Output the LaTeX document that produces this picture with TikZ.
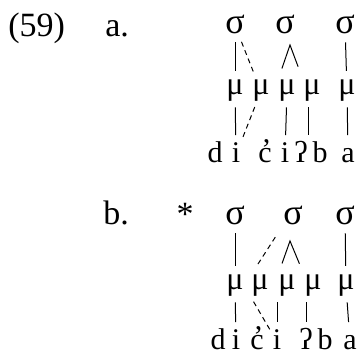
\documentclass[tikz,border=0pt]{standalone}
\usepackage{fontspec}
\setmainfont{Liberation Serif}
\usepackage{tikz}
\usetikzlibrary{positioning}

\newcommand{\cej}{\makebox[0pt][l]{\hspace{0.1em}\raisebox{0.1em}{’}}c}

\begin{document}
\begin{tikzpicture}[x=0.5pt,y=-0.5pt,
    every node/.style={on grid,inner sep=0pt,font=\fontsize{15}{18}\selectfont},
    lab/.style={anchor=base west,font=\fontsize{17}{20}\selectfont},
    syl/.style={font=\fontsize{18}{21}\selectfont,text height=8.5pt,text depth=0pt},
    mora/.style={font=\fontsize{16}{19}\selectfont,text height=7.4pt,text depth=3.5pt},
    seg/.style={text height=11.25pt,text depth=3pt},
    sm/.style={line width=0.5pt,shorten <=4pt,shorten >=4.5pt},
    ms/.style={line width=0.5pt,shorten <=2.5pt,shorten >=2.5pt},
    newlink/.style={dash pattern=on 2.5pt off 2pt}]
  \useasboundingbox (0,0) rectangle (359,356);
  % (59a)
  \node[lab] (ex) at (8,37) {(59)};
  \node[lab] (la) at (105,37) {a.};
  \node[syl,anchor=base] (s1a) at (235,34) {σ};
  \node[syl,right=25pt of s1a] (s2a) {σ};
  \node[syl,right=30pt of s2a] (s3a) {σ};
  \node[mora,anchor=base] (m1a) at (235,95) {μ};
  \node[mora,right=13pt of m1a] (m2a) {μ};
  \node[mora,right=13pt of m2a] (m3a) {μ};
  \node[mora,right=12.5pt of m3a] (m4a) {μ};
  \node[mora,right=17.5pt of m4a] (m5a) {μ};
  \node[seg,anchor=base] (da) at (215,163) {d};
  \node[seg,right=10.5pt of da] (i1a) {i};
  \node[seg,right=14.5pt of i1a] (ca) {\cej};
  \node[seg,right=10pt of ca] (i2a) {i};
  \node[seg,right=8pt of i2a] (qa) {ʔ};
  \node[seg,right=9.5pt of qa] (ba) {b};
  \node[seg,right=14pt of ba] (aa) {a};
  \coordinate (k2a) at (290,45);
  \draw[sm] (s1a) -- (m1a);
  \draw[sm,newlink] (s1a) -- (m2a);
  \draw[sm,shorten <=6pt,shorten >=7pt] (m3a.north west) -- (k2a) -- (m4a.north west);
  \draw[sm] (s3a) -- (m5a);
  \draw[ms] (m1a) -- (i1a);
  \draw[ms,newlink] (m2a) -- (i1a);
  \draw[ms] (m3a) -- (i2a);
  \draw[ms] ([xshift=-2pt]m4a.south) -- ([xshift=-2pt]m4a.south |- qa.north);
  \draw[ms] (m5a) -- (aa);
  % (59b)
  \node[lab] (lb) at (103,225) {b.};
  \node[lab,anchor=base] (star) at (185,226) {*};
  \node[syl,anchor=base] (s1b) at (235,225) {σ};
  \node[syl,right=29pt of s1b] (s2b) {σ};
  \node[syl,right=26pt of s2b] (s3b) {σ};
  \node[mora,anchor=base] (m1b) at (235,290) {μ};
  \node[mora,right=12.5pt of m1b] (m2b) {μ};
  \node[mora,right=13.5pt of m2b] (m3b) {μ};
  \node[mora,right=13pt of m3b] (m4b) {μ};
  \node[mora,right=16.5pt of m4b] (m5b) {μ};
  \node[seg,anchor=base] (db) at (218,350) {d};
  \node[seg,right=9pt of db] (i1b) {i};
  \node[seg,right=10.5pt of i1b] (cb) {\cej};
  \node[seg,right=10pt of cb] (i2b) {i};
  \node[seg,right=14.5pt of i2b] (qb) {ʔ};
  \node[seg,right=9.5pt of qb] (bb) {b};
  \node[seg,right=12.5pt of bb] (ab) {a};
  \coordinate (k2b) at (290,241);
  \draw[sm] (s1b) -- (m1b);
  \draw[sm,newlink,shorten <=7pt] (s2b.south west) -- (m2b.north west);
  \draw[sm,shorten <=6pt,shorten >=6pt] (m3b.north west) -- (k2b) -- (m4b.north west);
  \draw[sm] (s3b) -- (m5b);
  \draw[ms] (m1b) -- (i1b);
  \draw[ms,newlink] (m2b.south west) -- (i2b);
  \draw[ms] (i2b |- m3b.south) -- (i2b);
  \draw[ms] (qb |- m4b.south) -- (qb);
  \draw[ms] (m5b) -- (ab);
\end{tikzpicture}
\end{document}
